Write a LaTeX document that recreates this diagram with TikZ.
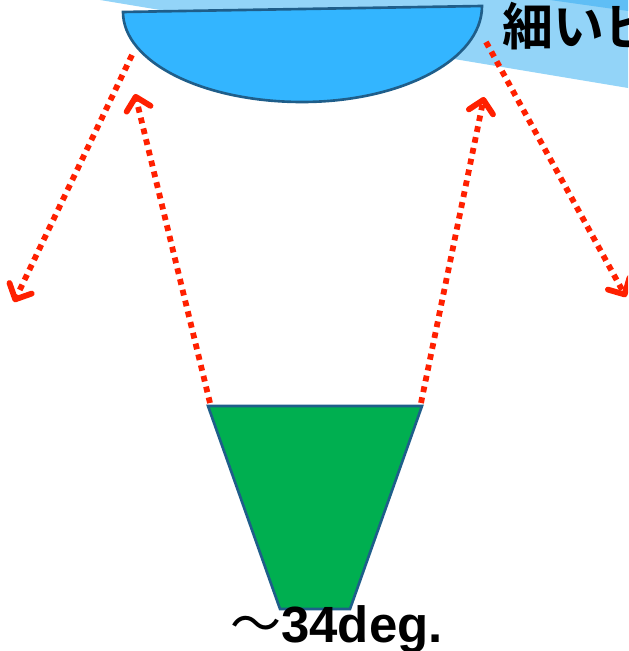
\documentclass[tikz,border=0pt]{standalone}
\usepackage{fontspec}
\setmainfont{Liberation Sans}
\newfontfamily\jpfont{Noto Sans CJK JP}[BoldFont={Noto Sans CJK JP Bold}]
\usetikzlibrary{%
	calc,%
	arrows.meta,%
	positioning,%
}
\definecolor{cbeamlight}{RGB}{147, 212, 248}
\definecolor{cbeamdark}{RGB}{95, 190, 245}
\definecolor{clens}{RGB}{51, 181, 255}
\definecolor{cgreen}{RGB}{0, 175, 80}
\definecolor{cedge}{RGB}{31, 94, 138}
\definecolor{cray}{RGB}{255, 32, 0}
\tikzset{
	>=Triangle,%
	lensbody/.style={%
			draw=cedge,%
			fill=clens,%
			line width=1.5pt},%
	sourcebody/.style={%
			draw=cedge,%
			fill=cgreen,%
			line width=1.5pt},%
	ray/.style={%
			draw=cray,%
			line width=3.3pt,%
			dash pattern=on 3.3pt off 3pt,%
			-{Straight Barb[length=7pt, width=14pt, line cap=round, line join=round]}},%
	biglabel/.style={%
			font={\fontsize{29}{31}\selectfont\bfseries},%
			inner sep=0pt},%
}

\begin{document}
\begin{tikzpicture}[x=0.02cm, y=-0.02cm]%
	\useasboundingbox (0,0) rectangle (628,651);
	\clip (0,0) rectangle (628,651);

	% beam
	\fill[cbeamlight] (100,0) -- (628,88) -- (628,0) -- cycle;
	\fill[cbeamdark] (550,0) -- (628,11) -- (628,0) -- cycle;

	% lens
	\draw[lensbody] (123,12) -- (482,6)
		.. controls (482,60) and (401,102) .. (302,102)
		.. controls (203,102) and (123,62) .. (123,12) -- cycle;
	\node[biglabel, anchor=base west] (beamtext) at (502,46) {\jpfont 細いビ};

	% source
	\coordinate (srcTL) at (208,406);
	\coordinate (srcTR) at (422,406);
	\coordinate (srcBR) at (350,609);
	\coordinate (srcBL) at (280,609);
	\draw[sourcebody] (srcTL) -- (srcTR) -- (srcBR) -- (srcBL) -- cycle;
	\node[biglabel, anchor=base west] (angle) at (230,642) {{\jpfont\mdseries ～}34deg.};

	% rays
	\coordinate (lensL) at (132,55);
	\coordinate (lensR) at (486,42);
	\coordinate (outL) at (14,302);
	\coordinate (outR) at (626,297);
	\coordinate (inL) at (135,94);
	\coordinate (inR) at (484,97);
	\coordinate (srcL) at (210,403);
	\coordinate (srcR) at (421,403);

	\draw[ray] (lensL) to (outL);
	\draw[ray] (srcL) to (inL);
	\draw[ray] (srcR) to (inR);
	\draw[ray] (lensR) to (outR);
\end{tikzpicture}
\end{document}
